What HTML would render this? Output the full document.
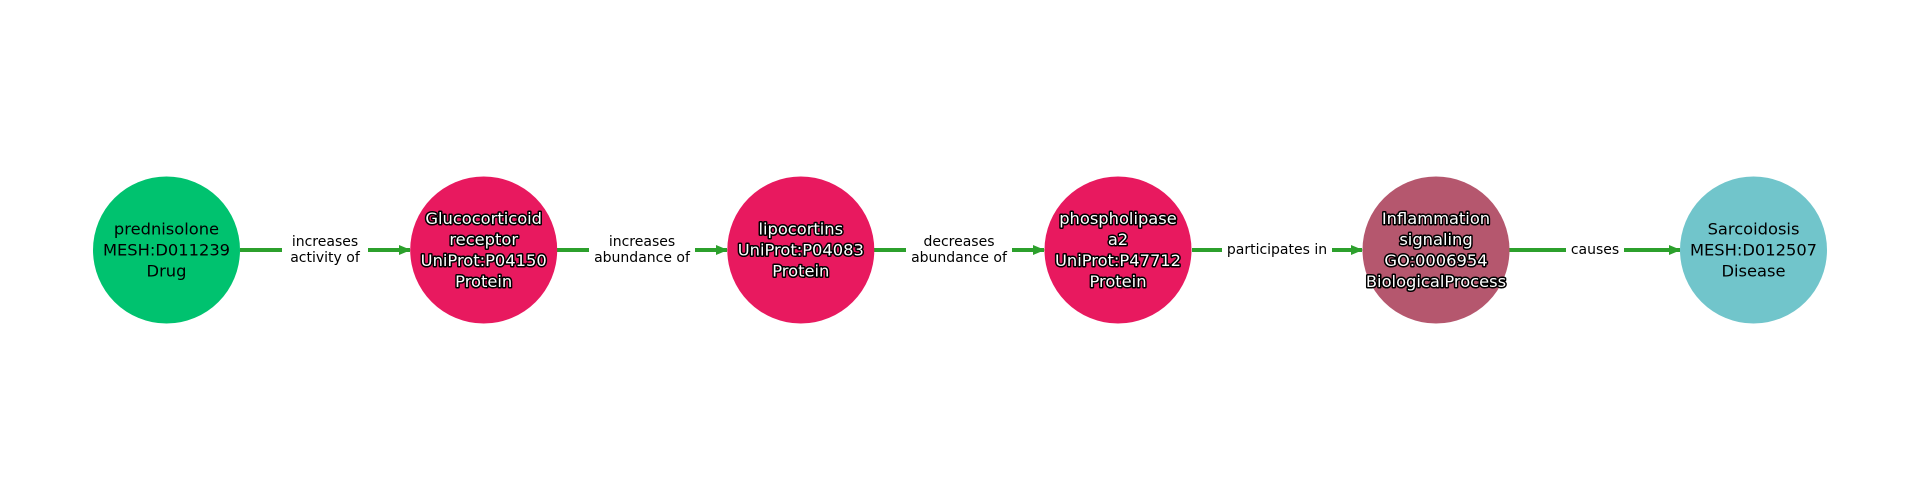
<!DOCTYPE html>
<html><head><meta charset="utf-8"><style>
html,body{margin:0;padding:0;background:#fff;}
svg{display:block;font-family:"DejaVu Sans","Liberation Sans",sans-serif;}
.n{font-size:16.3px;text-anchor:middle;dominant-baseline:central;}
.w{fill:#fff;stroke:#000;stroke-width:3px;paint-order:stroke;stroke-linejoin:round;}
.e{font-size:14px;text-anchor:middle;dominant-baseline:central;fill:#000;}
</style></head><body>
<svg width="1920" height="500" viewBox="0 0 1920 500">
<defs><marker id="a" markerWidth="12" markerHeight="10" refX="11" refY="5" orient="auto" markerUnits="userSpaceOnUse"><path d="M0,0 L12,5 L0,10 z" fill="#2ca02c"/></marker></defs>
<g stroke="#2ca02c" stroke-width="4" marker-end="url(#a)">
<line x1="240" y1="250" x2="410" y2="250"/>
<line x1="557" y1="250" x2="727" y2="250"/>
<line x1="874" y1="250" x2="1044" y2="250"/>
<line x1="1192" y1="250" x2="1362" y2="250"/>
<line x1="1509" y1="250" x2="1680" y2="250"/>
</g>
<g fill="#fff">
<rect x="282" y="232" width="86" height="36"/>
<rect x="589" y="232" width="106" height="36"/>
<rect x="906" y="232" width="106" height="36"/>
<rect x="1222" y="240" width="110" height="20"/>
<rect x="1566" y="240" width="58" height="20"/>
</g>
<text class="e" x="325" y="242">increases</text><text class="e" x="325" y="258">activity of</text>
<text class="e" x="642" y="242">increases</text><text class="e" x="642" y="258">abundance of</text>
<text class="e" x="959" y="242">decreases</text><text class="e" x="959" y="258">abundance of</text>
<text class="e" x="1277" y="250">participates in</text>
<text class="e" x="1595" y="250">causes</text>
<circle cx="166.5" cy="250" r="73.5" fill="#00c26f"/>
<circle cx="483.7" cy="250" r="73.5" fill="#e8195f"/>
<circle cx="800.8" cy="250" r="73.5" fill="#e8195f"/>
<circle cx="1118" cy="250" r="73.5" fill="#e8195f"/>
<circle cx="1436" cy="250" r="73.5" fill="#b5576e"/>
<circle cx="1753.5" cy="250" r="73.5" fill="#71c5cb"/>
<text class="n" x="166.5" y="229">prednisolone</text>
<text class="n" x="166.5" y="250">MESH:D011239</text>
<text class="n" x="166.5" y="271">Drug</text>
<g class="w">
<text class="n w" x="483.7" y="218.5">Glucocorticoid</text>
<text class="n w" x="483.7" y="239.5">receptor</text>
<text class="n w" x="483.7" y="260.5">UniProt:P04150</text>
<text class="n w" x="483.7" y="281.5">Protein</text>
<text class="n w" x="800.8" y="229">lipocortins</text>
<text class="n w" x="800.8" y="250">UniProt:P04083</text>
<text class="n w" x="800.8" y="271">Protein</text>
<text class="n w" x="1118" y="218.5">phospholipase</text>
<text class="n w" x="1118" y="239.5">a2</text>
<text class="n w" x="1118" y="260.5">UniProt:P47712</text>
<text class="n w" x="1118" y="281.5">Protein</text>
<text class="n w" x="1436" y="218.5">Inflammation</text>
<text class="n w" x="1436" y="239.5">signaling</text>
<text class="n w" x="1436" y="260.5">GO:0006954</text>
<text class="n w" x="1436" y="281.5">BiologicalProcess</text>
</g>
<text class="n" x="1753.5" y="229">Sarcoidosis</text>
<text class="n" x="1753.5" y="250">MESH:D012507</text>
<text class="n" x="1753.5" y="271">Disease</text>
</svg>
</body></html>
